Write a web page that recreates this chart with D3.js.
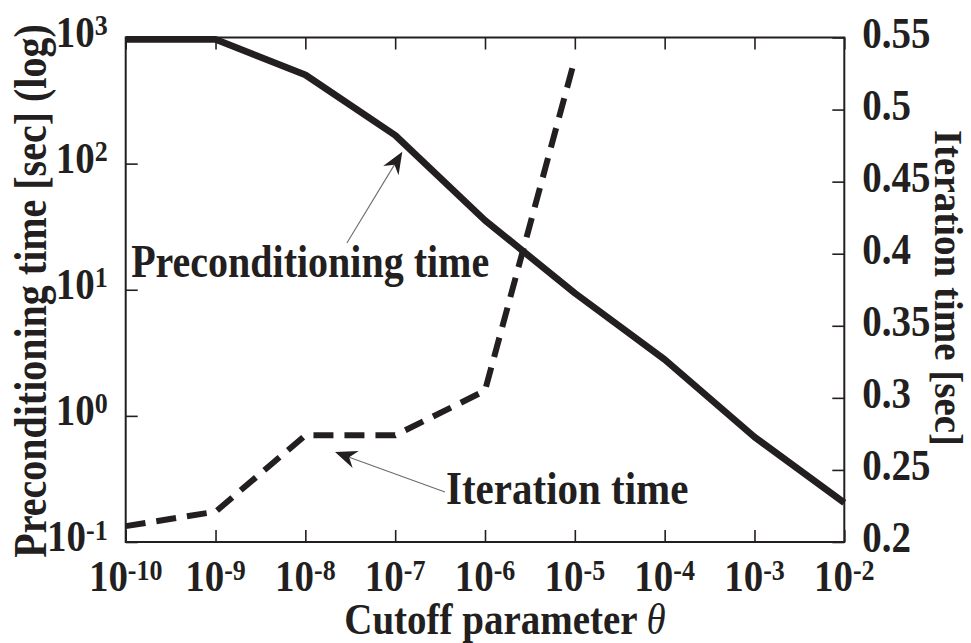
<!DOCTYPE html>
<html>
<head>
<meta charset="utf-8">
<script src="https://cdn.jsdelivr.net/npm/d3@7"></script>
<style>
  html, body { margin: 0; padding: 0; background: #fff; }
  svg { display: block; }
  text { font-family: "Liberation Serif", "Times New Roman", serif; fill: #231f20; }
</style>
</head>
<body>
<svg id="chart" width="971" height="643"></svg>
<script>
// ---- data ----
const theta = [1e-10, 1e-9, 1e-8, 1e-7, 1e-6, 1e-5, 1e-4, 1e-3, 1e-2];
const precondTime = [965, 965, 505, 168, 35.5, 9.4, 2.8, 0.68, 0.205];
const iterTheta = [1e-10, 1e-9, 1e-8, 1e-7, 1e-6, 1e-5];
const iterTime = [0.211, 0.221, 0.274, 0.274, 0.305, 0.535];
const xTickExp = [-10, -9, -8, -7, -6, -5, -4, -3, -2];
const leftTickExp = [-1, 0, 1, 2, 3];
const rightTicks = [0.2, 0.25, 0.3, 0.35, 0.4, 0.45, 0.5, 0.55];
const rightTickLabels = ["0.2", "0.25", "0.3", "0.35", "0.4", "0.45", "0.5", "0.55"];
const xTitle = "Cutoff parameter ";
const leftTitle = "Preconditioning time [sec] (log)";
const rightTitle = "Iteration time [sec]";
// annotations in data coordinates
const precondNote = { text: "Preconditioning time", label: [1.15e-10, 12.6], from: [2.9e-8, 23.5], to: [1.2e-7, 124] };
const iterNote = { text: "Iteration time", label: [3.68e-7, 0.2264], from: [3.58e-7, 0.2347], to: [2.14e-8, 0.2624] };

// ---- layout ----
const L = 125.7, R = 844.3, T = 37.5, B = 542;
const ink = "#231f20";
const SY = 1.14;      // vertical glyph stretch of the original typeface
const FS = 39, FE = 26; // tick label base / exponent sizes

const svg = d3.select("#chart");
const x = d3.scaleLog().domain([1e-10, 1e-2]).range([L, R]);
const yL = d3.scaleLog().domain([0.1, 1000]).range([B, T]);
const yR = d3.scaleLinear().domain([0.2, 0.55]).range([B, T]);

function stext(parent, tx, ty, rot) {
  return parent.append("g")
    .attr("transform", `translate(${tx},${ty}) rotate(${rot || 0}) scale(1,${SY})`)
    .append("text");
}

// power-of-ten label: anchor "middle" or "end" at (px, baseline)
function powLabel(px, py, e, anchor) {
  const g = svg.append("g").attr("transform", `translate(${px},${py}) scale(1,${SY})`);
  const base = g.append("text").attr("font-weight", "bold").attr("font-size", FS).text("10");
  const ex = g.append("text").attr("font-weight", "bold").attr("font-size", FE).text(String(e));
  const wb = base.node().getComputedTextLength();
  const we = ex.node().getComputedTextLength();
  const total = wb + we;
  const start = anchor === "end" ? -total : -total / 2;
  base.attr("x", start);
  ex.attr("x", start + wb).attr("y", -10);
}

// ---- axes (ticks inward) ----
const gBottom = svg.append("g").attr("transform", `translate(0,${B})`)
  .call(d3.axisBottom(x).tickValues(theta).tickSize(-12).tickFormat(""));
const gTop = svg.append("g").attr("transform", `translate(0,${T})`)
  .call(d3.axisTop(x).tickValues(theta).tickSize(-12).tickFormat(""));
const gLeft = svg.append("g").attr("transform", `translate(${L},0)`)
  .call(d3.axisLeft(yL).tickValues(leftTickExp.map(e => Math.pow(10, e))).tickSize(-12).tickFormat(""));
const gRight = svg.append("g").attr("transform", `translate(${R},0)`)
  .call(d3.axisRight(yR).tickValues(rightTicks).tickSize(-12).tickFormat(""));
[gBottom, gTop, gLeft, gRight].forEach(g => {
  g.select(".domain").remove();
  g.selectAll(".tick line").attr("stroke", ink).attr("stroke-width", 1.6);
});

svg.append("rect").attr("x", L).attr("y", T).attr("width", R - L).attr("height", B - T)
  .attr("fill", "none").attr("stroke", ink).attr("stroke-width", 2);

// ---- tick labels ----
xTickExp.forEach(e => powLabel(x(Math.pow(10, e)), 591, e, "middle"));
leftTickExp.forEach(e => powLabel(L - 18, yL(Math.pow(10, e)) + 9, e, "end"));
rightTicks.forEach((v, i) => {
  stext(svg, R + 18, yR(v) + 10, 0)
    .attr("text-anchor", "start").attr("font-weight", "bold").attr("font-size", FS)
    .text(rightTickLabels[i]);
});

// ---- axis titles ----
const xt = stext(svg, (L + R) / 2 + 20, 634, 0)
  .attr("text-anchor", "middle").attr("font-size", 39);
xt.append("tspan").attr("font-weight", "bold").text(xTitle);
xt.append("tspan").attr("font-style", "italic").text("\u03b8");

stext(svg, 46, 291, -90).attr("text-anchor", "middle").attr("font-weight", "bold")
  .attr("font-size", 40).text(leftTitle);
svg.append("text")
  .attr("transform", "translate(935,288) rotate(90)")
  .attr("text-anchor", "middle").attr("font-weight", "bold")
  .attr("font-size", 39).text(rightTitle);

// ---- series ----
const lineL = d3.line().x(d => x(d[0])).y(d => yL(d[1]));
const lineR = d3.line().x(d => x(d[0])).y(d => yR(d[1]));

svg.append("path").datum(theta.map((t, i) => [t, precondTime[i]]))
  .attr("d", lineL).attr("fill", "none").attr("stroke", ink)
  .attr("stroke-width", 6.8).attr("stroke-linejoin", "round");

svg.append("path").datum(iterTheta.map((t, i) => [t, iterTime[i]]))
  .attr("d", lineR).attr("fill", "none").attr("stroke", ink)
  .attr("stroke-width", 6).attr("stroke-dasharray", "20,11").attr("stroke-linejoin", "round");

// ---- annotations ----
function arrow(x1, y1, x2, y2) {
  const ang = Math.atan2(y2 - y1, x2 - x1);
  const len = 22, hw = 9, notch = 15;
  const ux = Math.cos(ang), uy = Math.sin(ang), px = -uy, py = ux;
  svg.append("line").attr("x1", x1).attr("y1", y1)
    .attr("x2", x2 - ux * notch).attr("y2", y2 - uy * notch)
    .attr("stroke", "#6d6b6b").attr("stroke-width", 1.1);
  const pts = [
    [x2, y2],
    [x2 - ux * len + px * hw, y2 - uy * len + py * hw],
    [x2 - ux * notch, y2 - uy * notch],
    [x2 - ux * len - px * hw, y2 - uy * len - py * hw]
  ];
  svg.append("polygon").attr("points", pts.map(p => p.join(",")).join(" ")).attr("fill", ink);
}
arrow(x(precondNote.from[0]), yL(precondNote.from[1]), x(precondNote.to[0]), yL(precondNote.to[1]));
arrow(x(iterNote.from[0]), yR(iterNote.from[1]), x(iterNote.to[0]), yR(iterNote.to[1]));

stext(svg, x(precondNote.label[0]), yL(precondNote.label[1]), 0)
  .attr("font-weight", "bold").attr("font-size", 40).text(precondNote.text);
stext(svg, x(iterNote.label[0]), yR(iterNote.label[1]), 0)
  .attr("font-weight", "bold").attr("font-size", 41).text(iterNote.text);
</script>
</body>
</html>
